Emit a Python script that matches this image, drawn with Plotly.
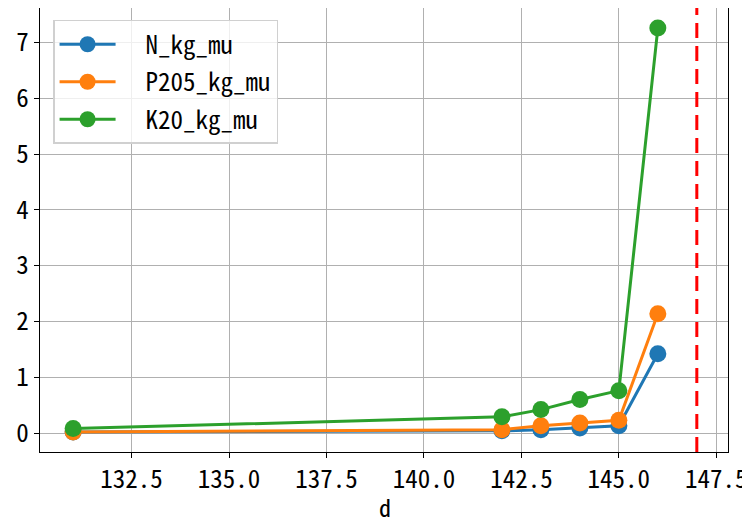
import plotly.graph_objects as go

d = [131, 142, 143, 144, 145, 146]
n_kg_mu = [0.02, 0.04, 0.06, 0.09, 0.13, 1.42]
p205_kg_mu = [0.02, 0.06, 0.13, 0.18, 0.23, 2.14]
k20_kg_mu = [0.08, 0.29, 0.42, 0.60, 0.76, 7.26]
cutoff_d = 147

series = [
    ("N_kg_mu", n_kg_mu, "#1f77b4"),
    ("P205_kg_mu", p205_kg_mu, "#ff7f0e"),
    ("K20_kg_mu", k20_kg_mu, "#2ca02c"),
]

FONT = "Noto Sans Mono CJK JP, Noto Sans CJK JP, DejaVu Sans Mono, monospace"
PAD = "\u00a0\u00a0"  # gap between legend handle and label

fig = go.Figure()
for name, vals, color in series:
    fig.add_trace(
        go.Scatter(
            x=d,
            y=vals,
            mode="lines+markers",
            name=PAD + name,
            legendgroup=name,
            line=dict(color=color, width=3),
            marker=dict(color=color, size=17),
        )
    )

# prediction cutoff
fig.add_vline(x=cutoff_d, line=dict(color="red", width=3, dash="15px,8px"))

axis_common = dict(
    showgrid=True,
    gridcolor="#b0b0b0",
    gridwidth=1.3,
    showline=True,
    linecolor="black",
    linewidth=1.3,
    mirror=True,
    ticks="outside",
    ticklen=5,
    tickwidth=1.2,
    tickcolor="black",
    zeroline=False,
    tickfont=dict(family=FONT, size=25, color="black"),
)

fig.update_xaxes(range=[130.15, 147.8], tick0=132.5, dtick=2.5, tickformat=".1f", **axis_common)
fig.update_yaxes(range=[-0.34, 7.62], tick0=0, dtick=1, **axis_common)

fig.add_annotation(
    text="d",
    xref="paper",
    yref="paper",
    x=0.501,
    y=-0.122,
    yanchor="middle",
    showarrow=False,
    font=dict(family=FONT, size=24, color="black"),
)

# page body adds ~8px offset, so margins are shifted accordingly
fig.update_layout(
    width=750,
    height=523,
    margin=dict(l=32, r=30, t=0, b=79, autoexpand=False),
    plot_bgcolor="white",
    paper_bgcolor="white",
    font=dict(family=FONT, color="black"),
    legend=dict(
        x=0.019,
        y=0.973,
        xanchor="left",
        yanchor="top",
        bgcolor="rgba(255,255,255,0.8)",
        bordercolor="#d0d0d0",
        borderwidth=1.5,
        font=dict(family=FONT, size=25, color="black"),
        tracegroupgap=2,
        itemwidth=56,
    ),
    showlegend=True,
)

fig.write_html("out.html")
